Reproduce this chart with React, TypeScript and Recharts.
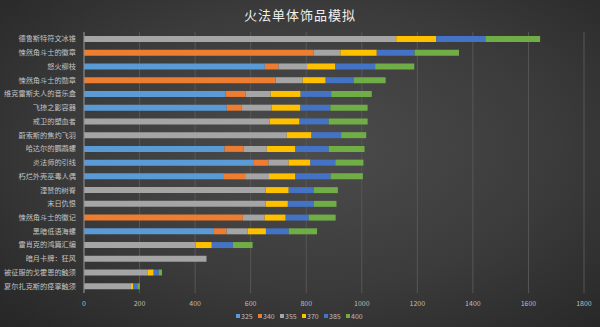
import React from 'react'
import { Bar, BarChart, CartesianGrid, XAxis, YAxis } from 'recharts'

// 火法单体饰品模拟 - stacked by item level

const items = [
  '德鲁斯特符文冰锥',
  '悚然角斗士的徽章',
  '怒火柳枝',
  '悚然角斗士的勋章',
  '维克雷斯夫人的音乐盒',
  '飞掠之影容器',
  '戒卫的塑血者',
  '蔚索斯的焦灼飞羽',
  '哈达尔的鹦鹉螺',
  '炎法师的引线',
  '朽烂外壳巫毒人偶',
  '湮赞的树脊',
  '末日仇恨',
  '悚然角斗士的徽记',
  '黑暗低语海螺',
  '雷肖克的鸿篇汇编',
  '暗月卡牌：狂风',
  '被征服的戈霍恩的触须',
  '夏尔扎克斯的痉挛触须',
]

const s325 = [0, 0, 651, 0, 509, 514, 0, 0, 506, 609, 504, 0, 0, 0, 465, 0, 0, 0, 0]
const s340 = [0, 826, 49, 690, 73, 54, 0, 0, 68, 55, 76, 0, 0, 572, 48, 0, 0, 0, 0]
const s355 = [1124, 97, 103, 97, 90, 107, 668, 730, 84, 72, 86, 654, 654, 78, 76, 402, 441, 228, 169]
const s370 = [144, 131, 102, 83, 108, 104, 108, 89, 103, 79, 95, 83, 80, 76, 66, 58, 0, 23, 9]
const s385 = [177, 136, 143, 101, 110, 108, 105, 107, 120, 90, 127, 91, 93, 83, 82, 76, 0, 18, 14]
const s400 = [197, 160, 141, 115, 146, 134, 140, 90, 129, 101, 116, 86, 82, 97, 102, 71, 0, 12, 9]

const levels = ['325', '340', '355', '370', '385', '400']
const colors = ['#5b9bd5', '#ed7d31', '#a5a5a5', '#ffc000', '#4472c4', '#70ad47']
const xTicks = [0, 200, 400, 600, 800, 1000, 1200, 1400, 1600, 1800]

const data = items.map((name, i) => ({
  name,
  '325': s325[i],
  '340': s340[i],
  '355': s355[i],
  '370': s370[i],
  '385': s385[i],
  '400': s400[i],
}))

const font = '"Noto Sans CJK SC", "Noto Sans", sans-serif'

const App = () => {
  return (
    <div
      style={{
        position: 'absolute',
        left: 0,
        top: 0,
        width: 600,
        height: 327,
        background: 'radial-gradient(ellipse at 52% 45%, #4c4c4c 0%, #3b3b3b 55%, #262626 100%)',
        fontFamily: font,
        overflow: 'hidden',
      }}
    >
      <div
        style={{
          position: 'absolute',
          top: 5,
          left: 0,
          width: 600,
          textAlign: 'center',
          color: '#f0f0f0',
          fontSize: 13,
          letterSpacing: 1,
        }}
      >
        火法单体饰品模拟
      </div>
      <BarChart
        width={600}
        height={327}
        data={data}
        layout="vertical"
        margin={{ top: 32, right: 16, left: 0, bottom: 14 }}
        barSize={6}
      >
        <CartesianGrid horizontal={false} stroke="#575757" />
        <XAxis
          type="number"
          domain={[0, 1800]}
          ticks={xTicks}
          axisLine={false}
          tickLine={false}
          height={20}
          tick={{ fill: '#bdbdbd', fontSize: 7, fontFamily: font }}
        />
        <YAxis
          type="category"
          dataKey="name"
          width={84}
          interval={0}
          axisLine={{ stroke: '#8c8c8c' }}
          tickLine={false}
          tickMargin={2}
          tick={{ fill: '#c4c4c4', fontSize: 7.2, fontFamily: font }}
        />
        {levels.map((lv, idx) => (
          <Bar key={lv} dataKey={lv} stackId="a" fill={colors[idx]} isAnimationActive={false} />
        ))}
      </BarChart>
      <div
        style={{
          position: 'absolute',
          top: 311,
          left: 236,
          display: 'flex',
          fontSize: 7,
          color: '#bdbdbd',
        }}
      >
        {levels.map((lv, idx) => (
          <div key={lv} style={{ display: 'flex', alignItems: 'center', width: 22 }}>
            <span style={{ display: 'inline-block', width: 4, height: 4, background: colors[idx], marginRight: 1 }} />
            {lv}
          </div>
        ))}
      </div>
    </div>
  )
}

export default App
